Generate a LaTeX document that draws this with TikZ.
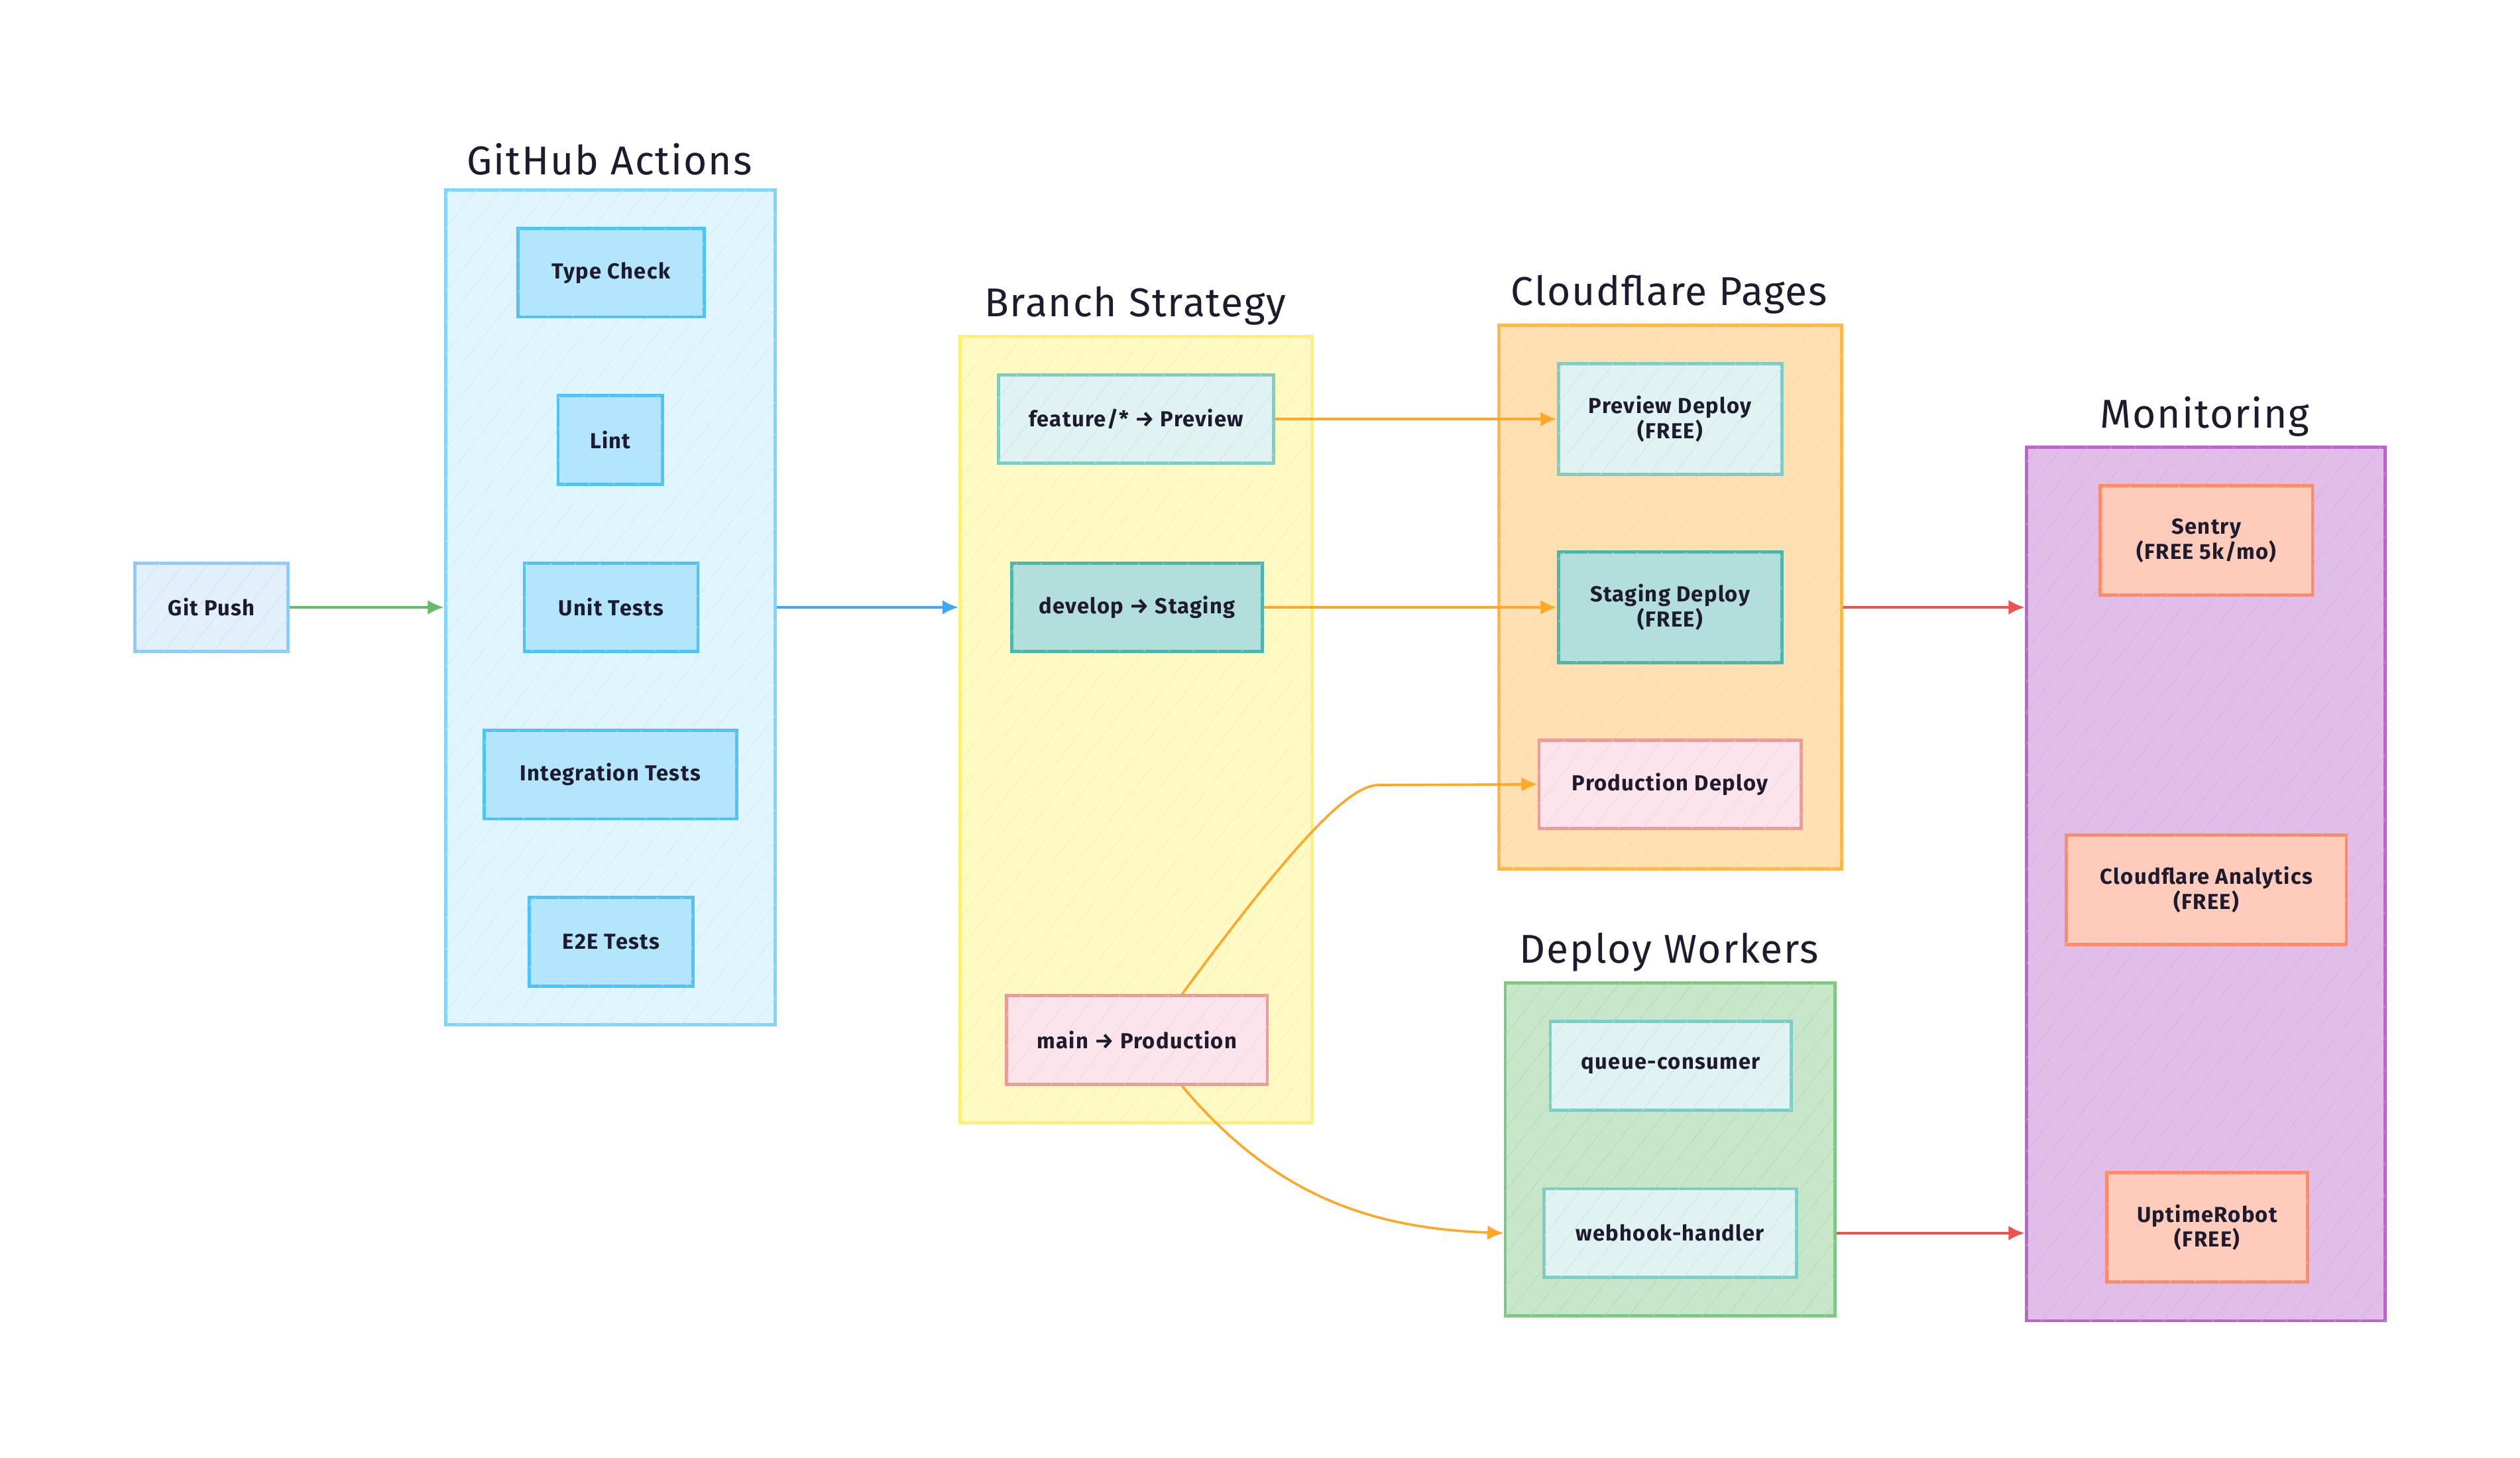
\documentclass[tikz,border=0pt]{standalone}
\usepackage{fontspec}
\setmainfont{Fira Sans}
\usetikzlibrary{arrows.meta,positioning,patterns.meta}
\definecolor{txt}{HTML}{1E1B2E}
\definecolor{gpfill}{HTML}{E3F0FC}\definecolor{gpline}{HTML}{90CAF9}
\definecolor{ghfill}{HTML}{E1F5FE}\definecolor{ghline}{HTML}{81D4FA}
\definecolor{ghnfill}{HTML}{B3E5FC}\definecolor{ghnline}{HTML}{4FC3F7}
\definecolor{brfill}{HTML}{FFF9C4}\definecolor{brline}{HTML}{FFF176}
\definecolor{tlfill}{HTML}{E0F2F1}\definecolor{tlline}{HTML}{80CBC4}
\definecolor{tdfill}{HTML}{B2DFDB}\definecolor{tdline}{HTML}{4DB6AC}
\definecolor{pkfill}{HTML}{FCE4EC}\definecolor{pkline}{HTML}{EF9A9A}
\definecolor{cffill}{HTML}{FFE0B2}\definecolor{cfline}{HTML}{FFB74D}
\definecolor{dwfill}{HTML}{C8E6C9}\definecolor{dwline}{HTML}{81C784}
\definecolor{mofill}{HTML}{E1BEE7}\definecolor{moline}{HTML}{BA68C8}
\definecolor{mnfill}{HTML}{FFCCBC}\definecolor{mnline}{HTML}{FF8A65}
\definecolor{agreen}{HTML}{66BB6A}\definecolor{ablue}{HTML}{42A5F5}
\definecolor{aorange}{HTML}{FFA726}\definecolor{ared}{HTML}{EF5350}
\tikzset{
  hatch/.style={postaction={pattern={Lines[angle=52,distance=12pt,line width=0.3pt]}, pattern color=#1}},
  box/.style={draw, rectangle, line width=2pt, text=txt, align=center,
    font=\fontsize{13.5}{15.5}\selectfont\bfseries\addfontfeatures{LetterSpace=4}, inner sep=0pt},
  group/.style={draw, rectangle, line width=2pt, inner sep=0pt},
  gtitle/.style={text=txt, font=\fontsize{25}{28}\selectfont\addfontfeatures{LetterSpace=3}},
  conn/.style={line width=1.5pt, -{Latex[length=10pt,width=9pt]}},
}
\begin{document}
\begin{tikzpicture}[x=1pt,y=-1pt]
\useasboundingbox (0,0) rectangle (1567,906);
% containers
\node[group, fill=ghfill, draw=ghline, hatch=ghline!45, minimum width=205pt, minimum height=519pt] (gha) at (379.5,377.5) {};
\node[gtitle] (ghat) at (379,99) {GitHub Actions};
\node[group, fill=brfill, draw=brline, hatch=brline!90!black!45, minimum width=219pt, minimum height=489pt] (branch) at (706.5,453.5) {};
\node[gtitle] (brt) at (706,190) {Branch Strategy};
\node[group, fill=cffill, draw=cfline, hatch=cfline!55, minimum width=213pt, minimum height=338pt] (pages) at (1038.5,371) {};
\node[gtitle] (cft) at (1038,183) {Cloudflare Pages};
\node[group, fill=dwfill, draw=dwline, hatch=dwline!65, minimum width=205pt, minimum height=207pt] (workers) at (1038.5,714.5) {};
\node[gtitle] (dwt) at (1038,592) {Deploy Workers};
\node[group, fill=mofill, draw=moline, hatch=moline!55, minimum width=223pt, minimum height=543pt] (mon) at (1371.5,549.5) {};
\node[gtitle] (mot) at (1371,259) {Monitoring};
% nodes
\node[box, fill=gpfill, draw=gpline, hatch=gpline!55, minimum width=95pt, minimum height=55pt] (gitpush) at (131.5,377.5) {Git Push};
\node[box, fill=ghnfill, draw=ghnline, hatch=ghnline!45, minimum width=116pt, minimum height=55pt] (typecheck) at (380,169.5) {Type Check};
\node[box, fill=ghnfill, draw=ghnline, hatch=ghnline!45, minimum width=65pt, minimum height=55pt] (lint) at (379.5,273.5) {Lint};
\node[box, fill=ghnfill, draw=ghnline, hatch=ghnline!45, minimum width=108pt, minimum height=55pt] (unit) at (380,377.5) {Unit Tests};
\node[box, fill=ghnfill, draw=ghnline, hatch=ghnline!45, minimum width=157pt, minimum height=55pt] (integ) at (379.5,481.5) {Integration Tests};
\node[box, fill=ghnfill, draw=ghnline, hatch=ghnline!45, minimum width=102pt, minimum height=55pt] (e2e) at (380,585.5) {E2E Tests};
\node[box, fill=tlfill, draw=tlline, hatch=tlline!45, minimum width=171pt, minimum height=55pt] (feature) at (706.5,260.5) {feature/* → Preview};
\node[box, fill=tdfill, draw=tdline, hatch=tdline!45, minimum width=156pt, minimum height=55pt] (develop) at (707,377.5) {develop → Staging};
\node[box, fill=pkfill, draw=pkline, hatch=pkline!45, minimum width=162pt, minimum height=55pt] (main) at (707,646.5) {main → Production};
\node[box, fill=tlfill, draw=tlline, hatch=tlline!45, minimum width=139pt, minimum height=69pt] (previewd) at (1038.5,260.5) {Preview Deploy\\(FREE)};
\node[box, fill=tdfill, draw=tdline, hatch=tdline!45, minimum width=139pt, minimum height=69pt] (stagingd) at (1038.5,377.5) {Staging Deploy\\(FREE)};
\node[box, fill=pkfill, draw=pkline, hatch=pkline!45, minimum width=163pt, minimum height=55pt] (prodd) at (1038.5,487.5) {Production Deploy};
\node[box, fill=tlfill, draw=tlline, hatch=tlline!45, minimum width=150pt, minimum height=55pt] (queue) at (1039,662.5) {queue-consumer};
\node[box, fill=tlfill, draw=tlline, hatch=tlline!45, minimum width=157pt, minimum height=55pt] (webhook) at (1038.5,766.5) {webhook-handler};
\node[box, fill=mnfill, draw=mnline, hatch=mnline!45, minimum width=132pt, minimum height=68pt] (sentry) at (1372,336) {Sentry\\(FREE 5k/mo)};
\node[box, fill=mnfill, draw=mnline, hatch=mnline!45, minimum width=174pt, minimum height=68pt] (cfa) at (1372,553) {Cloudflare Analytics\\(FREE)};
\node[box, fill=mnfill, draw=mnline, hatch=mnline!45, minimum width=125pt, minimum height=68pt] (uptime) at (1372.5,763) {UptimeRobot\\(FREE)};
% connectors
\coordinate (bend1) at (857,488);
\draw[conn, agreen] (gitpush.east) -- (gha.west |- gitpush.east);
\draw[conn, ablue] (gha.east |- unit.east) -- (branch.west |- unit.east);
\draw[conn, aorange] (feature.east) -- (previewd.west);
\draw[conn, aorange] (develop.east) -- (stagingd.west);
\draw[conn, aorange] ([xshift=28pt]main.north) .. controls +(70,-95) and +(-18,0) .. (bend1) -- (prodd.west);
\draw[conn, aorange] ([xshift=28pt]main.south) to[out=-50,in=178] (workers.west |- webhook.west);
\draw[conn, ared] (pages.east |- stagingd.east) -- (mon.west |- stagingd.east);
\draw[conn, ared] (workers.east |- webhook.east) -- (mon.west |- webhook.east);
\end{tikzpicture}
\end{document}
